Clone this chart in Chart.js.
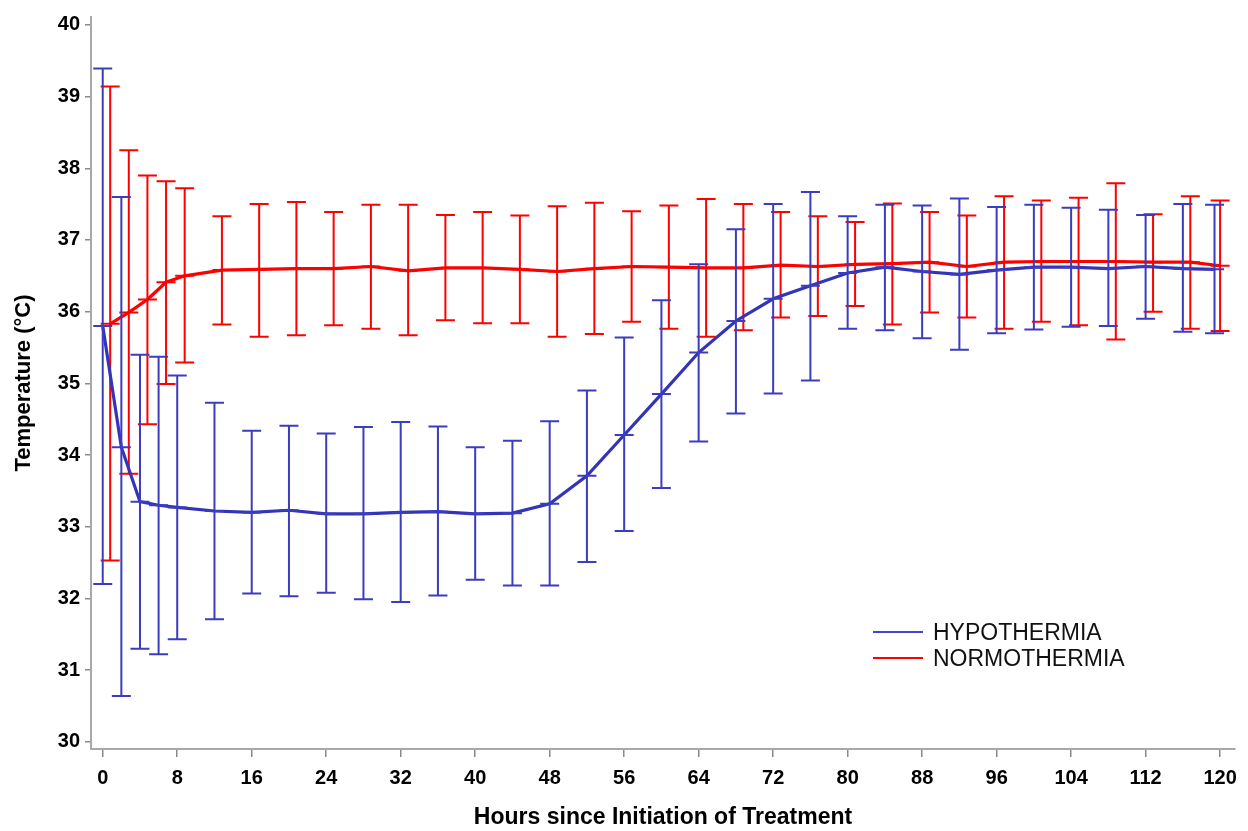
<!DOCTYPE html>
<html>
<head>
<meta charset="utf-8">
<title>Temperature since initiation of treatment</title>
<script src="https://cdn.jsdelivr.net/npm/chart.js@4.4.1/dist/chart.umd.min.js"></script>
<style>
  html, body { margin: 0; padding: 0; background: #fff; }
  #wrap { width: 1248px; height: 831px; }
</style>
</head>
<body>
<div id="wrap"><canvas id="tempChart" width="1248" height="831"></canvas></div>
<script>
// ================= DATA =================

const xTicks = [0, 8, 16, 24, 32, 40, 48, 56, 64, 72, 80, 88, 96, 104, 112, 120];
const yTicks = [30, 31, 32, 33, 34, 35, 36, 37, 38, 39, 40];

// hypothermia group
const hypoHours = [0, 2, 4, 6, 8, 12, 16, 20, 24, 28, 32, 36, 40, 44, 48, 52, 56, 60,
  64, 68, 72, 76, 80, 84, 88, 92, 96, 100, 104, 108, 112, 116, 119.4];
const hypoMean = [35.80, 34.11, 33.35, 33.30, 33.27, 33.22, 33.20, 33.23, 33.18, 33.18, 33.20,
  33.21, 33.18, 33.19, 33.32, 33.71, 34.28, 34.85, 35.43, 35.87, 36.18, 36.36, 36.54, 36.62,
  36.56, 36.52, 36.58, 36.62, 36.62, 36.60, 36.63, 36.60, 36.59];
const hypoUpper = [39.39, 37.60, 35.40, 35.37, 35.11, 34.73, 34.34, 34.41, 34.30, 34.39, 34.46,
  34.40, 34.11, 34.20, 34.47, 34.90, 35.64, 36.16, 36.66, 37.15, 37.50, 37.67, 37.33, 37.49,
  37.48, 37.58, 37.46, 37.49, 37.45, 37.42, 37.35, 37.50, 37.49];
const hypoLower = [32.20, 30.64, 31.30, 31.22, 31.43, 31.71, 32.07, 32.03, 32.08, 31.99, 31.95,
  32.04, 32.26, 32.18, 32.18, 32.51, 32.94, 33.54, 34.19, 34.58, 34.86, 35.04, 35.76, 35.74,
  35.63, 35.47, 35.70, 35.75, 35.79, 35.80, 35.90, 35.72, 35.70];

// normothermia group
const normoHours = [0.8, 2.8, 4.8, 6.8, 8.8, 12.8, 16.8, 20.8, 24.8, 28.8, 32.8, 36.8, 40.8,
  44.8, 48.8, 52.8, 56.8, 60.8, 64.8, 68.8, 72.8, 76.8, 80.8, 84.8, 88.8, 92.8, 96.8, 100.8,
  104.8, 108.8, 112.8, 116.8, 120];
const normoMean = [35.83, 35.99, 36.17, 36.41, 36.50, 36.58, 36.59, 36.60, 36.60, 36.63, 36.57,
  36.61, 36.61, 36.59, 36.56, 36.60, 36.63, 36.62, 36.61, 36.61, 36.65, 36.63, 36.66, 36.67,
  36.69, 36.63, 36.69, 36.70, 36.70, 36.70, 36.69, 36.69, 36.64];
const normoUpper = [39.14, 38.25, 37.90, 37.82, 37.72, 37.33, 37.50, 37.53, 37.39, 37.49, 37.49,
  37.35, 37.39, 37.34, 37.47, 37.52, 37.40, 37.48, 37.57, 37.50, 37.39, 37.33, 37.25, 37.51,
  37.39, 37.34, 37.61, 37.55, 37.59, 37.79, 37.36, 37.61, 37.55];
const normoLower = [32.53, 33.74, 34.43, 34.99, 35.29, 35.82, 35.65, 35.67, 35.81, 35.76, 35.67,
  35.88, 35.84, 35.84, 35.65, 35.69, 35.86, 35.76, 35.65, 35.74, 35.92, 35.94, 36.08, 35.82,
  35.99, 35.92, 35.76, 35.86, 35.81, 35.61, 36.00, 35.76, 35.73];

const BLUE = "#3434b8";
const RED = "#ff0000";

function toPoints(xs, ys) {
  return xs.map((x, i) => ({ x: x, y: ys[i] }));
}

// ================= ERROR BARS =================
// draws each dataset's whiskers right after its line, using the chart scales

const errorBars = {
  id: "errorBars",
  afterDatasetDraw(chart, args) {
    const ds = chart.data.datasets[args.index];
    const xs = chart.scales.x;
    const ys = chart.scales.y;
    const ctx = chart.ctx;
    const cap = 9.5;
    ctx.save();
    ctx.strokeStyle = ds.barColor;
    ctx.lineWidth = 2;
    ds.data.forEach((p, i) => {
      const px = xs.getPixelForValue(p.x);
      const top = ys.getPixelForValue(ds.upper[i]);
      const bot = ys.getPixelForValue(ds.lower[i]);
      const mid = ys.getPixelForValue(p.y);
      ctx.beginPath();
      ctx.moveTo(px, top);
      ctx.lineTo(px, bot);
      ctx.moveTo(px - cap, top);
      ctx.lineTo(px + cap, top);
      ctx.moveTo(px - cap, bot);
      ctx.lineTo(px + cap, bot);
      ctx.moveTo(px - cap, mid);
      ctx.lineTo(px + cap, mid);
      ctx.stroke();
    });
    ctx.restore();
  }
};

// ================= LEGEND =================

const insideLegend = {
  id: "insideLegend",
  afterDraw(chart) {
    const ctx = chart.ctx;
    const items = [
      { label: "HYPOTHERMIA", color: "#4545cc", y: 632 },
      { label: "NORMOTHERMIA", color: RED, y: 658 }
    ];
    ctx.save();
    ctx.font = "23px 'Liberation Sans', Arial, sans-serif";
    ctx.textBaseline = "middle";
    ctx.textAlign = "left";
    items.forEach(it => {
      ctx.strokeStyle = it.color;
      ctx.lineWidth = 2;
      ctx.beginPath();
      ctx.moveTo(873, it.y);
      ctx.lineTo(923, it.y);
      ctx.stroke();
      ctx.fillStyle = "#111";
      ctx.fillText(it.label, 933, it.y + 2);
    });
    ctx.restore();
  }
};

// ================= CHART =================

const tickFont = { family: "'Liberation Sans', Arial, sans-serif", size: 20, weight: "bold" };

const ctx = document.getElementById("tempChart").getContext("2d");
const tempChart = new Chart(ctx, {
  type: "scatter",
  data: {
    datasets: [
      {
        label: "HYPOTHERMIA",
        data: toPoints(hypoHours, hypoMean),
        upper: hypoUpper,
        lower: hypoLower,
        barColor: "#3c3cc0",
        showLine: true,
        borderColor: BLUE,
        borderWidth: 3.2,
        pointRadius: 0,
        tension: 0
      },
      {
        label: "NORMOTHERMIA",
        data: toPoints(normoHours, normoMean),
        upper: normoUpper,
        lower: normoLower,
        barColor: RED,
        showLine: true,
        borderColor: RED,
        borderWidth: 3.2,
        pointRadius: 0,
        tension: 0
      }
    ]
  },
  options: {
    responsive: false,
    animation: false,
    layout: { padding: { top: 12, right: 13, left: 0, bottom: 0 } },
    plugins: {
      legend: { display: false },
      tooltip: { enabled: false }
    },
    scales: {
      x: {
        type: "linear",
        min: -1.26,
        max: 121.6,
        afterBuildTicks: s => { s.ticks = xTicks.map(v => ({ value: v })); },
        afterFit: s => { s.height = 82; },
        grid: { drawOnChartArea: false, drawTicks: true, tickLength: 8, color: "#8a8a8a", lineWidth: 1.5 },
        border: { color: "#a8a8a8", width: 2 },
        ticks: { font: tickFont, color: "#000", padding: 9, maxRotation: 0, autoSkip: false },
        title: {
          display: true,
          text: "Hours since Initiation of Treatment",
          font: { family: "'Liberation Sans', Arial, sans-serif", size: 23, weight: "bold" },
          color: "#000",
          padding: { top: 0, bottom: 0 }
        }
      },
      y: {
        type: "linear",
        min: 29.9,
        max: 40.11,
        afterBuildTicks: s => { s.ticks = yTicks.map(v => ({ value: v })); },
        afterFit: s => { s.width = 91; },
        grid: { drawOnChartArea: false, drawTicks: true, tickLength: 6, color: "#8a8a8a", lineWidth: 1.5 },
        border: { color: "#a8a8a8", width: 2 },
        ticks: { font: tickFont, color: "#000", padding: 5 },
        title: {
          display: true,
          text: "Temperature (°C)",
          font: { family: "'Liberation Sans', Arial, sans-serif", size: 22, weight: "bold" },
          color: "#000",
          padding: { top: 11, bottom: 0 }
        }
      }
    }
  },
  plugins: [errorBars, insideLegend]
});
</script>
</body>
</html>
